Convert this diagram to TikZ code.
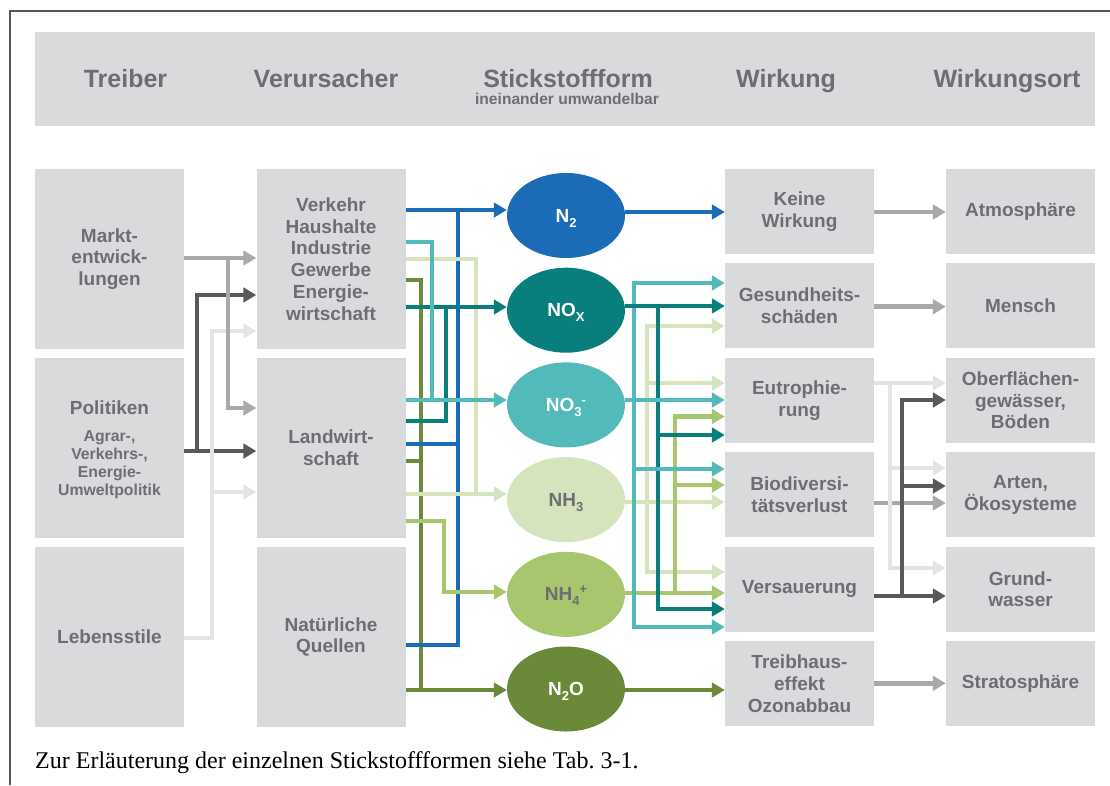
\documentclass[tikz,border=0pt]{standalone}
\usepackage{fontspec}
\setmainfont{Liberation Sans}
\newfontfamily\capserif{Liberation Serif}
\usepackage{xcolor}
\usetikzlibrary{shapes.geometric,arrows.meta,positioning}

\definecolor{boxgrey}{RGB}{217,218,220}
\definecolor{txtgrey}{RGB}{109,110,113}
\definecolor{framegrey}{RGB}{85,85,85}
\definecolor{gMid}{RGB}{167,169,172}
\definecolor{gDark}{RGB}{88,89,91}
\definecolor{gLight}{RGB}{227,228,229}
\definecolor{cBlue}{RGB}{28,107,182}
\definecolor{cTeal}{RGB}{8,127,124}
\definecolor{cCyan}{RGB}{82,186,186}
\definecolor{cPale}{RGB}{214,228,190}
\definecolor{cLgreen}{RGB}{168,198,110}
\definecolor{cDgreen}{RGB}{106,138,58}

\newcommand\hdrfnt{\fontsize{25}{28}\selectfont\bfseries}
\newcommand\hsubfnt{\fontsize{15.6}{18}\selectfont\bfseries}
\newcommand\boxfnt{\fontsize{19}{21.7}\selectfont\bfseries}
\newcommand\polfnt{\fontsize{15.8}{18}\selectfont\bfseries}
\newcommand\formfnt{\fontsize{19}{21}\selectfont\bfseries}
\newcommand\capfnt{\capserif\fontsize{24}{27}\selectfont}
\newcommand\nsub[1]{\raisebox{-5pt}[0pt][0pt]{\fontsize{13}{13}\selectfont #1}}
\newcommand\nsup[1]{\raisebox{7pt}[0pt][0pt]{\fontsize{13}{13}\selectfont #1}}

\tikzset{
  box/.style={fill=boxgrey, text=txtgrey, font=\boxfnt, align=center, inner sep=0pt,
    minimum width=149pt, minimum height=179.5pt},
  wbox/.style={box, minimum height=85pt},
  form/.style={ellipse, inner sep=0pt, minimum width=118pt, minimum height=85pt,
    font=\formfnt, text=white},
  htxt/.style={anchor=base, inner sep=0pt, text=txtgrey, font=\hdrfnt},
  txt/.style={inner sep=0pt, text=txtgrey, align=center},
  con/.style={line width=4.8pt},
  arr/.style={con, -{Triangle[length=13pt,width=14.5pt]}}
}

\begin{document}
\begin{tikzpicture}[x=1pt,y=-1pt]
\useasboundingbox (0,0) rectangle (1110,785);
% frame
\draw[framegrey, line width=2pt] (9.6,785) -- (9.6,10.7) -- (1110,10.7);

% header band
\node[fill=boxgrey, inner sep=0pt, minimum width=1060.4pt, minimum height=94pt] (head) at (564.8,78.7) {};
\node[htxt] (hTreiber) at (125.5,87.3) {Treiber};
\node[htxt] (hVerurs) at (326,87.3) {Verursacher};
\node[htxt] (hForm) at (568,87.3) {Stickstoffform};
\node[htxt, font=\hsubfnt] (hFormSub) at (567,104.3) {ineinander umwandelbar};
\node[htxt] (hWirk) at (786,87.3) {Wirkung};
\node[htxt] (hOrt) at (1007,87.3) {Wirkungsort};

% Treiber
\node[box] (markt) at (109.5,259) {Markt-\\entwick-\\lungen};
\node[box] (polit) at (109.5,448) {};
\node[htxt, font=\boxfnt] (politName) at (109.5,414.3) {Politiken};
\node[txt, font=\polfnt, below=16pt of politName] (politSub) {Agrar-,\\Verkehrs-,\\Energie-\\Umweltpolitik};
\node[box] (leben) at (109.5,637) {Lebensstile};

% Verursacher
\node[box] (verk) at (331,259) {Verkehr\\Haushalte\\Industrie\\Gewerbe\\Energie-\\wirtschaft};
\node[box] (landw) at (331,448) {Landwirt-\\schaft};
\node[box] (natq) at (331,637) {Natürliche\\Quellen};

% Stickstoffformen
\node[form, fill=cBlue] (n2) at (566,215.5) {N\nsub{2}};
\node[form, fill=cTeal] (nox) at (566,310.2) {NO\nsub{X}};
\node[form, fill=cCyan] (no3) at (566,404.9) {NO\nsub{3}\nsup{-}};
\node[form, fill=cPale, text=txtgrey] (nh3) at (566,499.6) {NH\nsub{3}};
\node[form, fill=cLgreen, text=txtgrey] (nh4) at (566,594.3) {NH\nsub{4}\nsup{+}};
\node[form, fill=cDgreen] (n2o) at (566,689) {N\nsub{2}O};

% Wirkung
\node[wbox] (keine) at (799.5,211.5) {Keine\\Wirkung};
\node[wbox] (gesund) at (799.5,305.9) {Gesundheits-\\schäden};
\node[wbox] (eutro) at (799.5,400.3) {Eutrophie-\\rung};
\node[wbox] (biodiv) at (799.5,494.7) {Biodiversi-\\tätsverlust};
\node[wbox] (versa) at (799.5,589.1) {Versauerung};
\node[wbox] (treib) at (799.5,683.5) {Treibhaus-\\effekt\\Ozonabbau};

% Wirkungsort
\node[wbox] (atmo) at (1020.5,211.5) {Atmosphäre};
\node[wbox] (mensch) at (1020.5,305.9) {Mensch};
\node[wbox] (ober) at (1020.5,400.3) {Oberflächen-\\gewässer,\\Böden};
\node[wbox] (arten) at (1020.5,494.7) {Arten,\\Ökosysteme};
\node[wbox] (grund) at (1020.5,589.1) {Grund-\\wasser};
\node[wbox] (strato) at (1020.5,683.5) {Stratosphäre};

% Treiber -> Verursacher
\coordinate (tDark) at (197,451);
\coordinate (tLight) at (212,638);
\coordinate (tMid) at (228,258);
\draw[arr, gDark] (polit.east |- tDark) -- (landw.west |- tDark);
\draw[arr, gDark] (tDark) |- (verk.west |- 0,295);
\draw[arr, gLight] (leben.east |- tLight) -| (tLight |- 0,331) -- (verk.west |- 0,331);
\draw[arr, gLight] (tLight |- 0,492) -- (landw.west |- 0,492);
\draw[arr, gMid] (markt.east |- tMid) -- (verk.west |- tMid);
\draw[arr, gMid] (tMid) |- (landw.west |- 0,408);

% Verursacher -> Stickstoffformen
\coordinate (vDgreen) at (421,690);
\coordinate (vCyan) at (432,400);
\coordinate (vLgreen) at (444,592);
\coordinate (vTeal) at (446,307);
\coordinate (vBlue) at (458,210);
\coordinate (vPale) at (476,494);
\draw[con, cDgreen] (verk.east |- 0,280) -| (vDgreen);
\draw[con, cDgreen] (landw.east |- 0,461) -- (vDgreen |- 0,461);
\draw[arr, cDgreen] (natq.east |- vDgreen) -- (n2o.west |- vDgreen);
\draw[con, cBlue] (natq.east |- 0,645) -| (vBlue);
\draw[con, cBlue] (landw.east |- 0,444) -- (vBlue |- 0,444);
\draw[arr, cBlue] (verk.east |- vBlue) -- (n2.west |- vBlue);
\draw[con, cPale] (verk.east |- 0,259) -| (vPale);
\draw[arr, cPale] (landw.east |- vPale) -- (nh3.west |- vPale);
\draw[arr, cLgreen] (landw.east |- 0,521) -| (vLgreen) -- (nh4.west |- vLgreen);
\draw[con, cTeal] (landw.east |- 0,421) -| (vTeal);
\draw[arr, cTeal] (verk.east |- vTeal) -- (nox.west |- vTeal);
\draw[con, cCyan] (verk.east |- 0,242) -| (vCyan);
\draw[arr, cCyan] (landw.east |- vCyan) -- (no3.west |- vCyan);

% Stickstoffformen -> Wirkung
\coordinate (wCyan) at (634,400);
\coordinate (wPale) at (647,502);
\coordinate (wTeal) at (658,306);
\coordinate (wLgreen) at (675,593);
\draw[arr, cPale] (wPale) |- (gesund.west |- 0,326);
\draw[arr, cPale] (wPale) |- (versa.west |- 0,572);
\draw[arr, cPale] (wPale |- 0,383) -- (eutro.west |- 0,383);
\draw[arr, cPale] (nh3.east |- wPale) -- (biodiv.west |- wPale);
\draw[arr, cLgreen] (wLgreen) |- (eutro.west |- 0,416.5);
\draw[arr, cLgreen] (wLgreen |- 0,485) -- (biodiv.west |- 0,485);
\draw[arr, cLgreen] (nh4.east |- wLgreen) -- (versa.west |- wLgreen);
\draw[arr, cTeal] (wTeal) |- (versa.west |- 0,609);
\draw[arr, cTeal] (wTeal |- 0,435) -- (eutro.west |- 0,435);
\draw[arr, cCyan] (wCyan) |- (gesund.west |- 0,283);
\draw[arr, cCyan] (wCyan) |- (versa.west |- 0,627);
\draw[arr, cCyan] (wCyan |- 0,469) -- (biodiv.west |- 0,469);
\draw[arr, cCyan] (no3.east |- wCyan) -- (eutro.west |- wCyan);
\draw[arr, cTeal] (nox.east |- wTeal) -- (gesund.west |- wTeal);
\draw[arr, cBlue] (n2.east |- 0,212) -- (keine.west |- 0,212);
\draw[arr, cDgreen] (n2o.east |- vDgreen) -- (treib.west |- vDgreen);

% Wirkung -> Wirkungsort
\coordinate (oLight) at (890,383);
\coordinate (oDark) at (902,596);
\draw[arr, gMid] (keine.east |- 0,212) -- (atmo.west |- 0,212);
\draw[arr, gMid] (gesund.east |- 0,306.7) -- (mensch.west |- 0,306.7);
\draw[arr, gMid] (biodiv.east |- 0,503) -- (arten.west |- 0,503);
\draw[arr, gMid] (treib.east |- 0,683.3) -- (strato.west |- 0,683.3);
\draw[arr, gLight] (eutro.east |- oLight) -- (ober.west |- oLight);
\draw[arr, gLight] (oLight) |- (arten.west |- 0,468);
\draw[arr, gLight] (oLight) |- (grund.west |- 0,568);
\draw[arr, gDark] (versa.east |- oDark) -- (grund.west |- oDark);
\draw[arr, gDark] (oDark) |- (ober.west |- 0,400);
\draw[arr, gDark] (oDark |- 0,486) -- (arten.west |- 0,486);

% caption
\node[anchor=base west, inner sep=0pt, font=\capfnt] (caption) at (35,768) {Zur Erläuterung der einzelnen Stickstoffformen siehe Tab.\ 3-1.};
\end{tikzpicture}
\end{document}
